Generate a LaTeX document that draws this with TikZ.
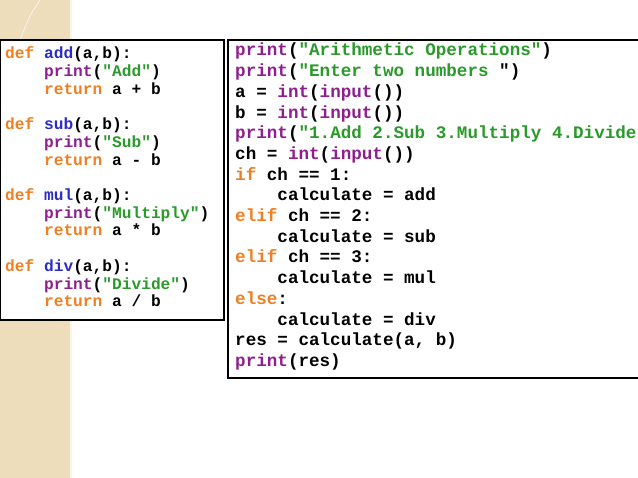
\documentclass[tikz,border=0pt]{standalone}
\usepackage{fontspec}
\setmonofont{Liberation Mono}
\definecolor{kwc}{HTML}{EE7F22}
\definecolor{fnc}{HTML}{2B2BC8}
\definecolor{prc}{HTML}{8E1F8E}
\definecolor{stc}{HTML}{2A9A2A}
\definecolor{bgc}{HTML}{EEDDBB}
\newcommand\kwd[1]{\textcolor{kwc}{#1}}
\newcommand\fnn[1]{\textcolor{fnc}{#1}}
\newcommand\prt[1]{\textcolor{prc}{#1}}
\newcommand\strg[1]{\textcolor{stc}{#1}}
\tikzset{
  codeL/.style={anchor=base west,inner sep=0pt,font=\ttfamily\bfseries\fontsize{16.2}{16}\selectfont},
  codeR/.style={anchor=base west,inner sep=0pt,font=\ttfamily\bfseries\fontsize{17.6}{17}\selectfont},
  codebox/.style={draw=black,line width=2.6pt,fill=white}
}
\begin{document}
\begin{tikzpicture}[x=1pt,y=-1pt]
\useasboundingbox (0,0) rectangle (638,478);
\fill[white] (0,0) rectangle (638,478);
\fill[bgc] (0,0) rectangle (70,478);
\draw[white!70!bgc,line width=1.5pt] (71,0) -- (71,478);
\draw[white!60!bgc,line width=1pt] (40,0) .. controls (30,15) .. (20,40);
\draw[codebox] (0,40) rectangle (224,320);
\draw[codebox] (228,40) rectangle (650,378);
% left box
\def\lx{5}\def\ly{59}\def\lh{17.7}
\node[codeL] (l1) at (\lx,\ly+0*\lh) {\kwd{def} \fnn{add}(a,b):};
\node[codeL] (l2) at (\lx,\ly+1*\lh) {~~~~\prt{print}(\strg{"Add"})};
\node[codeL] (l3) at (\lx,\ly+2*\lh) {~~~~\kwd{return} a + b};
\node[codeL] (l4) at (\lx,\ly+4*\lh) {\kwd{def} \fnn{sub}(a,b):};
\node[codeL] (l5) at (\lx,\ly+5*\lh) {~~~~\prt{print}(\strg{"Sub"})};
\node[codeL] (l6) at (\lx,\ly+6*\lh) {~~~~\kwd{return} a - b};
\node[codeL] (l7) at (\lx,\ly+8*\lh) {\kwd{def} \fnn{mul}(a,b):};
\node[codeL] (l8) at (\lx,\ly+9*\lh) {~~~~\prt{print}(\strg{"Multiply"})};
\node[codeL] (l9) at (\lx,\ly+10*\lh) {~~~~\kwd{return} a * b};
\node[codeL] (l10) at (\lx,\ly+12*\lh) {\kwd{def} \fnn{div}(a,b):};
\node[codeL] (l11) at (\lx,\ly+13*\lh) {~~~~\prt{print}(\strg{"Divide"})};
\node[codeL] (l12) at (\lx,\ly+14*\lh) {~~~~\kwd{return} a / b};
% right box
\def\rx{235}\def\ry{56}\def\rh{20.7}
\node[codeR] (r1) at (\rx,\ry+0*\rh) {\prt{print}(\strg{"Arithmetic Operations"})};
\node[codeR] (r2) at (\rx,\ry+1*\rh) {\prt{print}(\strg{"Enter two numbers }")};
\node[codeR] (r3) at (\rx,\ry+2*\rh) {a = \prt{int}(\prt{input}())};
\node[codeR] (r4) at (\rx,\ry+3*\rh) {b = \prt{int}(\prt{input}())};
\node[codeR] (r5) at (\rx,\ry+4*\rh) {\prt{print}(\strg{"1.Add 2.Sub 3.Multiply 4.Divide"})};
\node[codeR] (r6) at (\rx,\ry+5*\rh) {ch = \prt{int}(\prt{input}())};
\node[codeR] (r7) at (\rx,\ry+6*\rh) {\kwd{if} ch == 1:};
\node[codeR] (r8) at (\rx,\ry+7*\rh) {~~~~calculate = add};
\node[codeR] (r9) at (\rx,\ry+8*\rh) {\kwd{elif} ch == 2:};
\node[codeR] (r10) at (\rx,\ry+9*\rh) {~~~~calculate = sub};
\node[codeR] (r11) at (\rx,\ry+10*\rh) {\kwd{elif} ch == 3:};
\node[codeR] (r12) at (\rx,\ry+11*\rh) {~~~~calculate = mul};
\node[codeR] (r13) at (\rx,\ry+12*\rh) {\kwd{else}:};
\node[codeR] (r14) at (\rx,\ry+13*\rh) {~~~~calculate = div};
\node[codeR] (r15) at (\rx,\ry+14*\rh) {res = calculate(a, b)};
\node[codeR] (r16) at (\rx,\ry+15*\rh) {\prt{print}(res)};
\end{tikzpicture}
\end{document}
